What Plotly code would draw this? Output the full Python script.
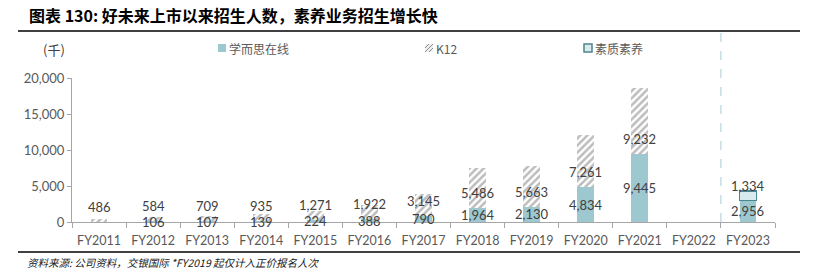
import plotly.graph_objects as go

categories = ["FY2011", "FY2012", "FY2013", "FY2014", "FY2015", "FY2016", "FY2017",
              "FY2018", "FY2019", "FY2020", "FY2021", "FY2022", "FY2023"]
online = [None, 106, 107, 139, 224, 388, 790, 1964, 2130, 4834, 9445, None, 2956]
k12 = [486, 584, 709, 935, 1271, 1922, 3145, 5486, 5663, 7261, 9232, None, None]
suyang = [None, None, None, None, None, None, None, None, None, None, None, None, 1334]
ytick_vals = [0, 5000, 10000, 15000, 20000]

W, H = 818, 275
L, R, T, B = 72, 43, 78, 53
PW, PH = W - L - R, H - T - B

def px(x):
    return (x - L) / PW

def py(y):
    return (H - B - y) / PH

TEAL = "#9dc8cf"
LABEL_FONT = dict(family="Lato, sans-serif", size=13, color="#404040")
CJK = "Noto Sans CJK SC, sans-serif"

fig = go.Figure()
fig.add_trace(go.Bar(x=categories, y=online, name="学而思在线",
                     marker=dict(color=TEAL, line=dict(width=0))))
fig.add_trace(go.Bar(x=categories, y=k12, name="K12",
                     marker=dict(color="white", line=dict(width=0),
                                 pattern=dict(shape="/", fgcolor="#7a7a7a", bgcolor="white",
                                              size=5, solidity=0.5))))
fig.add_trace(go.Bar(x=categories, y=suyang, name="素质素养",
                     marker=dict(color="#d8eaee", line=dict(width=1.5, color="#4b8791"))))

annotations = []
for i, c in enumerate(categories):
    base = 0
    if online[i]:
        annotations.append(dict(x=c, y=online[i] / 2, xref="x", yref="y", text=f"{online[i]:,}",
                                showarrow=False, font=LABEL_FONT, yanchor="middle"))
        base = online[i]
    for series in (k12, suyang):
        if series[i]:
            annotations.append(dict(x=c, y=base, xref="x", yref="y", text=f"{series[i]:,}",
                                    showarrow=False, font=LABEL_FONT, yanchor="bottom", yshift=5))

# Title, unit, footer
annotations.append(dict(x=px(27), y=py(15), xref="paper", yref="paper", xanchor="left", yanchor="middle",
                        text="<b>图表 130: 好未来上市以来招生人数，素养业务招生增长快</b>", showarrow=False,
                        font=dict(family=CJK, size=16, color="#000000")))
annotations.append(dict(x=px(41), y=py(49), xref="paper", yref="paper", xanchor="left", yanchor="middle",
                        text="(千)", showarrow=False, font=dict(family=CJK, size=13, color="#404040")))
annotations.append(dict(x=px(25), y=py(262), xref="paper", yref="paper", xanchor="left", yanchor="middle",
                        text="<i>资料来源: 公司资料，交银国际 *FY2019 起仅计入正价报名人次</i>", showarrow=False,
                        font=dict(family=CJK, size=10.5, color="#202020")))

# Legend (manual)
legend_items = [("学而思在线", 218), ("K12", 425), ("素质素养", 584)]
for name, x0 in legend_items:
    annotations.append(dict(x=px(x0 + 9), y=py(48), xref="paper", yref="paper", xanchor="left",
                            yanchor="middle", text=name, showarrow=False,
                            font=dict(family=CJK, size=12, color="#595959")))

shapes = []
# rules
shapes.append(dict(type="line", xref="paper", yref="paper", x0=px(18), x1=px(800), y0=py(31), y1=py(31),
                   line=dict(color="#404040", width=2)))
shapes.append(dict(type="line", xref="paper", yref="paper", x0=px(18), x1=px(800), y0=py(252), y1=py(252),
                   line=dict(color="#404040", width=2)))
# dashed separator
shapes.append(dict(type="line", xref="x", yref="paper", x0=11.5, x1=11.5, y0=0, y1=py(32),
                   line=dict(color="#a8ccd6", width=1, dash="dash")))
# legend markers
m = 8
lx = 218
shapes.append(dict(type="rect", xref="paper", yref="paper", x0=px(lx), x1=px(lx + m), y0=py(52), y1=py(44),
                   fillcolor=TEAL, line=dict(width=0)))
lx = 425
shapes.append(dict(type="rect", xref="paper", yref="paper", x0=px(lx), x1=px(lx + m), y0=py(52), y1=py(44),
                   fillcolor="#f0f0f0", line=dict(width=0)))
for k in (-4, 0, 4):
    xa, ya = lx + max(k, 0), 52 + min(k, 0)
    xb, yb = lx + m + min(k, 0), 44 + max(k, 0)
    shapes.append(dict(type="line", xref="paper", yref="paper", x0=px(xa), y0=py(ya), x1=px(xb), y1=py(yb),
                       line=dict(color="#8c8c8c", width=1)))
lx = 584
shapes.append(dict(type="rect", xref="paper", yref="paper", x0=px(lx), x1=px(lx + m), y0=py(52), y1=py(44),
                   fillcolor="#d8eaee", line=dict(width=1.5, color="#4b8791")))

fig.update_layout(
    width=W, height=H, margin=dict(l=L, r=R, t=T, b=B, pad=0),
    barmode="stack", bargap=0.69, showlegend=False,
    plot_bgcolor="white", paper_bgcolor="white",
    annotations=annotations, shapes=shapes,
    xaxis=dict(type="category", range=[-0.5, 12.5], showline=True, linecolor="#a6a6a6", linewidth=1,
               ticks="outside", tickson="boundaries", ticklen=5, tickcolor="#a6a6a6", tickangle=0,
               ticklabelstandoff=7,
               tickfont=dict(family="Lato, sans-serif", size=12.5, color="#595959"),
               showgrid=False, zeroline=False, fixedrange=True),
    yaxis=dict(range=[0, 20000], tickvals=ytick_vals, tickformat=",", showline=True, linecolor="#a6a6a6",
               linewidth=1, ticks="outside", ticklen=4, tickcolor="#a6a6a6",
               tickfont=dict(family="Lato, sans-serif", size=13, color="#595959"),
               showgrid=False, zeroline=False, fixedrange=True),
)

fig.write_html("out.html", config={"displayModeBar": False})
